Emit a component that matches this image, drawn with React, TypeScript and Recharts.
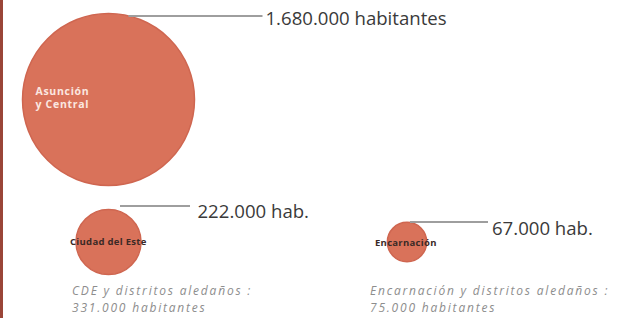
import React from 'react';
import { ScatterChart, Scatter, XAxis, YAxis, ZAxis } from 'recharts';

const regions = ['Asunción y Central', 'Ciudad del Este', 'Encarnación'];
const population = [1680000, 222000, 67000];
const populationLabels = ['1.680.000 habitantes', '222.000 hab.', '67.000 hab.'];
const bubbleColumn = [0, 0, 1];
const bubbleRow = [0, 1, 1];
const innerLabels = [['Asunción', 'y Central'], ['Ciudad del Este'], ['Encarnación']];
const noteLines = [
  [] as string[],
  ['CDE y distritos aledaños :', '331.000 habitantes'],
  ['Encarnación y distritos aledaños :', '75.000 habitantes'],
];

const data = regions.map((name, i) => ({
  name,
  pop: population[i],
  col: bubbleColumn[i],
  row: bubbleRow[i],
  idx: i,
}));

const FONT = '"Open Sans", "DejaVu Sans", sans-serif';
const FILL = '#d9725a';
const STROKE = '#cf6650';

// per-bubble annotation layout (offsets from bubble centre)
const layout = [
  { lineDy: -83.5, lineX0: 20, lineX1: 154, textDx: 157, textDy: 9, inDx: -73, inDy: [-4.5, 8.5], inSize: 10.5, inSpacing: 0.7, inColor: '#fbe7e0', noteDx: 0, noteDy: [0, 0] },
  { lineDy: -36, lineX0: 11.5, lineX1: 81.5, textDx: 89, textDy: 11.5, inDx: -38.5, inDy: [3], inSize: 9.5, inSpacing: 0.3, inColor: '#3b2a26', noteDx: -36.5, noteDy: [52.5, 69.5] },
  { lineDy: -20, lineX0: 3, lineX1: 81, textDx: 85, textDy: 13, inDx: -32, inDy: [3.5], inSize: 9.5, inSpacing: 0.3, inColor: '#3b2a26', noteDx: -37, noteDy: [52.5, 69.5] },
];

const BubbleShape = (props: any) => {
  const { cx, cy, payload } = props;
  const size = props.size ?? 0;
  const r = props.width ? props.width / 2 : Math.sqrt(size / Math.PI);
  const i = payload.idx;
  const L = layout[i];
  const ly = cy + L.lineDy;
  return (
    <g>
      <circle cx={cx} cy={cy} r={r} fill={FILL} stroke={STROKE} strokeWidth={1.5} />
      <line x1={cx + L.lineX0} y1={ly} x2={cx + L.lineX1} y2={ly} stroke="#9e9e9e" strokeWidth={2} />
      <text x={cx + L.textDx} y={ly + L.textDy} fontFamily={FONT} fontSize={18.6} fill="#3a3a3a">
        {populationLabels[i]}
      </text>
      {innerLabels[i].map((t, k) => (
        <text key={k} x={cx + L.inDx} y={cy + L.inDy[k]} fontFamily={FONT} fontSize={L.inSize} fontWeight={700} letterSpacing={L.inSpacing} fill={L.inColor}>
          {t}
        </text>
      ))}
      {noteLines[i].map((t, k) => (
        <text key={'n' + k} x={cx + L.noteDx} y={cy + L.noteDy[k]} fontFamily={FONT} fontSize={12} letterSpacing={1.8} fontStyle="italic" fill="#8d8d8d">
          {t}
        </text>
      ))}
    </g>
  );
};

export default function App() {
  return (
    <div style={{ position: 'absolute', left: 0, top: 0, width: 632, height: 318, background: '#ffffff' }}>
      <ScatterChart width={632} height={318} margin={{ top: 0, right: 0, bottom: 0, left: 0 }}>
        <XAxis type="number" dataKey="col" domain={[-0.36348, 1.75377]} allowDataOverflow hide />
        <YAxis type="number" dataKey="row" domain={[-0.6982, 1.5333]} allowDataOverflow reversed hide />
        <ZAxis type="number" dataKey="pop" domain={[0, 1680000]} range={[300, 23235]} />
        <Scatter data={data} shape={BubbleShape} isAnimationActive={false} />
      </ScatterChart>
      <div style={{ position: 'absolute', left: 0, top: 0, width: 3, height: 318, background: '#9a4538' }} />
    </div>
  );
}
